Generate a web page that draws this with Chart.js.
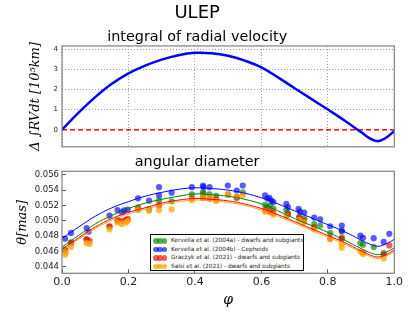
<!DOCTYPE html>
<html>
<head>
<meta charset="utf-8">
<script src="https://cdn.jsdelivr.net/npm/chart.js@4/dist/chart.umd.min.js"></script>
<style>
  html, body { margin: 0; padding: 0; background: #fff; }
  #wrap { position: relative; width: 415px; height: 312px; overflow: hidden; font-family: "DejaVu Sans", sans-serif; }
  #topBox { position: absolute; left: 0; top: 0; width: 415px; height: 155px; }
  #botBox { position: absolute; left: 0; top: 153px; width: 415px; height: 159px; }
  #legend { position: absolute; left: 150px; top: 234px; width: 154px; height: 37px; box-sizing: border-box;
            border: 1px solid #000; background: #fff; }
  #legend .row { position: absolute; left: 0; height: 8px; width: 100%; }
  #legend i { position: absolute; top: 1px; width: 5.5px; height: 5.5px; border-radius: 50%; }
  #legend span { position: absolute; left: 20px; top: -1px; font-size: 5.8px; line-height: 8px; color: #222; white-space: nowrap; }
</style>
</head>
<body>
<div id="wrap">
  <div id="topBox"><canvas id="rvChart"></canvas></div>
  <div id="botBox"><canvas id="thetaChart"></canvas></div>
  <div id="legend"></div>
</div>
<script>
// 軸の目盛り
const xTicks = [0, 0.2, 0.4, 0.6, 0.8, 1.0];
const rvTicks = [0, 1, 2, 3, 4];
const thetaTicks = [0.044, 0.046, 0.048, 0.050, 0.052, 0.054, 0.056];

// 視線速度の積分（10^5 km）
const rvPhase = [0, 0.05, 0.1, 0.15, 0.2, 0.25, 0.3, 0.35, 0.4, 0.45, 0.5, 0.55, 0.6, 0.65, 0.7, 0.75, 0.8, 0.85, 0.9, 0.925, 0.95, 0.975, 1.0];
const rvInt = [0, 0.85, 1.62, 2.28, 2.8, 3.18, 3.48, 3.7, 3.82, 3.8, 3.67, 3.43, 3.1, 2.6, 2.06, 1.53, 1.0, 0.46, -0.12, -0.42, -0.57, -0.4, -0.07];

// フィット曲線（角直径 mas）
const fitPhase = rvPhase;
const fitKervA = [0.0466, 0.0481, 0.0496, 0.0507, 0.0516, 0.0523, 0.0528, 0.0532, 0.0535, 0.0534, 0.0532, 0.0528, 0.0522, 0.0513, 0.0503, 0.0494, 0.0485, 0.0475, 0.0464, 0.0459, 0.0456, 0.0459, 0.0465];
const fitKervB = [0.0477, 0.0492, 0.0506, 0.0517, 0.0525, 0.0532, 0.0537, 0.0541, 0.0543, 0.0542, 0.0540, 0.0536, 0.0530, 0.0522, 0.0513, 0.0504, 0.0495, 0.0486, 0.0475, 0.0470, 0.0467, 0.0470, 0.0476];
const fitGraczyk = [0.0463, 0.0478, 0.0492, 0.0503, 0.0511, 0.0517, 0.0523, 0.0527, 0.0529, 0.0528, 0.0526, 0.0522, 0.0516, 0.0508, 0.0499, 0.0490, 0.0481, 0.0472, 0.0461, 0.0456, 0.0453, 0.0456, 0.0462];
const fitSalsi = [0.0461, 0.0476, 0.0490, 0.0501, 0.0509, 0.0515, 0.0521, 0.0525, 0.0527, 0.0526, 0.0524, 0.0520, 0.0514, 0.0506, 0.0497, 0.0488, 0.0479, 0.0470, 0.0459, 0.0454, 0.0451, 0.0454, 0.0460];

// 観測点
const kervAPhase = [0.009, 0.027, 0.074, 0.143, 0.167, 0.193, 0.229, 0.262, 0.292, 0.33, 0.391, 0.424, 0.426, 0.444, 0.464, 0.526, 0.544, 0.611, 0.618, 0.626, 0.636, 0.675, 0.68, 0.714, 0.729, 0.759, 0.777, 0.807, 0.842, 0.842, 0.898, 0.906, 0.938, 0.968];
const kervATheta = [0.04629, 0.04719, 0.04758, 0.04927, 0.05013, 0.05009, 0.05177, 0.05151, 0.05263, 0.05255, 0.05345, 0.05371, 0.05350, 0.05345, 0.05324, 0.05298, 0.05371, 0.05207, 0.05180, 0.05200, 0.05160, 0.05142, 0.05100, 0.05056, 0.05030, 0.04957, 0.04940, 0.04841, 0.04860, 0.04770, 0.04710, 0.04690, 0.04659, 0.04581];

const kervBPhase = [0.009, 0.027, 0.074, 0.080, 0.143, 0.167, 0.180, 0.187, 0.198, 0.229, 0.262, 0.292, 0.292, 0.33, 0.391, 0.424, 0.426, 0.444, 0.499, 0.526, 0.544, 0.611, 0.618, 0.624, 0.630, 0.636, 0.675, 0.68, 0.712, 0.716, 0.729, 0.759, 0.777, 0.807, 0.842, 0.842, 0.898, 0.906, 0.938, 0.968, 0.985];
const kervBTheta = [0.04769, 0.04843, 0.04907, 0.04860, 0.05067, 0.05140, 0.05111, 0.05137, 0.05147, 0.05293, 0.05263, 0.05438, 0.05331, 0.05367, 0.05438, 0.05460, 0.05438, 0.05438, 0.05460, 0.05395, 0.05460, 0.05331, 0.05290, 0.05300, 0.05265, 0.05245, 0.05222, 0.05180, 0.05155, 0.05120, 0.05108, 0.05043, 0.05020, 0.04930, 0.04940, 0.04874, 0.04808, 0.04780, 0.04775, 0.04726, 0.04831];

const graczykPhase = [0.009, 0.027, 0.074, 0.083, 0.143, 0.167, 0.180, 0.193, 0.198, 0.229, 0.292, 0.391, 0.424, 0.444, 0.464, 0.50, 0.526, 0.611, 0.626, 0.636, 0.68, 0.714, 0.729, 0.759, 0.807, 0.842, 0.906, 0.968, 0.985];
const graczykTheta = [0.04616, 0.04710, 0.04760, 0.04740, 0.04930, 0.05000, 0.05000, 0.05010, 0.05025, 0.05150, 0.05200, 0.05290, 0.05300, 0.05290, 0.05280, 0.05340, 0.05310, 0.05140, 0.05120, 0.05100, 0.05080, 0.05040, 0.05000, 0.04920, 0.04770, 0.04780, 0.04590, 0.04560, 0.04680];

const salsiPhase = [0.009, 0.012, 0.027, 0.074, 0.083, 0.143, 0.167, 0.180, 0.193, 0.198, 0.229, 0.262, 0.292, 0.33, 0.391, 0.424, 0.444, 0.464, 0.50, 0.526, 0.544, 0.611, 0.636, 0.675, 0.714, 0.729, 0.759, 0.807, 0.842, 0.842, 0.898, 0.906, 0.968];
const salsiTheta = [0.04560, 0.04590, 0.04660, 0.04710, 0.04700, 0.04890, 0.04980, 0.04960, 0.04980, 0.05000, 0.05140, 0.05130, 0.05140, 0.05150, 0.05270, 0.05310, 0.05310, 0.05260, 0.05350, 0.05320, 0.05330, 0.05120, 0.05080, 0.05060, 0.05010, 0.04980, 0.04890, 0.04760, 0.04650, 0.04700, 0.04600, 0.04570, 0.04510];

const seriesNames = [
  "Kervella et al. (2004a) - dwarfs and subgiants",
  "Kervella et al. (2004b) - Cepheids",
  "Graczyk et al. (2021) - dwarfs and subgiants",
  "Salsi et al. (2021) - dwarfs and subgiants",
];
const pointColors = ["rgba(0,128,0,0.65)", "rgba(0,0,255,0.65)", "rgba(255,0,0,0.65)", "rgba(255,165,0,0.75)"];
const lineColors = ["#008000", "#0000ff", "#ff0000", "#ffa500"];

const SANS = "'DejaVu Sans', sans-serif";
const SERIF = "'DejaVu Serif', serif";

function toXY(xs, ys) {
  return xs.map((x, i) => ({ x, y: ys[i] }));
}

// 枠線（四辺）
const framePlugin = {
  id: "frame",
  afterDatasetsDraw(chart) {
    const { ctx, chartArea: a } = chart;
    ctx.save();
    ctx.strokeStyle = "#808080";
    ctx.lineWidth = 1.2;
    ctx.strokeRect(a.left, a.top, a.width, a.height);
    ctx.restore();
  },
};

Chart.defaults.animation = false;
Chart.defaults.font.family = SANS;
Chart.defaults.color = "#000";

/**
 * 上段：視線速度の積分
 */
new Chart(document.getElementById("rvChart"), {
  type: "scatter",
  data: {
    datasets: [
      {
        data: toXY(rvPhase, rvInt),
        showLine: true,
        borderColor: "#0000ff",
        borderWidth: 2.5,
        pointRadius: 0,
        tension: 0.4,
        order: 0,
      },
      {
        data: toXY([0, 1], [0, 0]),
        showLine: true,
        borderColor: "#ff0000",
        borderWidth: 1.6,
        borderDash: [5, 3],
        pointRadius: 0,
        order: 1,
      },
    ],
  },
  options: {
    responsive: true,
    maintainAspectRatio: false,
    layout: { padding: { left: 0, right: 20.7, top: 0, bottom: 5 } },
    plugins: {
      legend: { display: false },
      tooltip: { enabled: false },
      title: {
        display: true,
        text: "ULEP",
        font: { size: 18, weight: "normal", family: SANS },
        padding: { top: 3, bottom: 2 },
      },
      subtitle: {
        display: true,
        text: "integral of radial velocity",
        color: "#000",
        font: { size: 14.4, weight: "normal", family: SANS, lineHeight: 1.1 },
        padding: { top: 3, bottom: 0.5 },
      },
    },
    scales: {
      x: {
        type: "linear",
        min: 0,
        max: 1,
        afterBuildTicks: (s) => { s.ticks = xTicks.map((v) => ({ value: v })); },
        afterFit: (s) => { s.height = 0; },
        ticks: { display: false },
        grid: { color: "#9a9a9a", drawTicks: false },
        border: { display: false, dash: [1, 2] },
      },
      y: {
        min: -0.85,
        max: 4.16,
        afterBuildTicks: (s) => { s.ticks = rvTicks.map((v) => ({ value: v })); },
        afterFit: (s) => { s.width = 62; },
        ticks: { font: { size: 7 }, padding: 4, color: "#222" },
        grid: {
          color: (c) => (c.tick && c.tick.value === 0 ? "rgba(0,0,0,0)" : "#9a9a9a"),
          drawTicks: false,
        },
        border: { display: false, dash: [1, 2] },
        title: {
          display: true,
          text: "\u0394 \u222BRVdt [10\u2075km]",
          font: { size: 13, style: "italic", family: SERIF },
          padding: { top: 28, bottom: 0 },
        },
      },
    },
  },
  plugins: [framePlugin],
});

/**
 * 下段：角直径
 */
const pointSets = [
  [kervAPhase, kervATheta],
  [kervBPhase, kervBTheta],
  [graczykPhase, graczykTheta],
  [salsiPhase, salsiTheta],
];
const fitSets = [fitKervA, fitKervB, fitGraczyk, fitSalsi];
const pointOrder = [4, 3, 2, 1];

const thetaDatasets = [];
fitSets.forEach((fit, i) => {
  thetaDatasets.push({
    data: toXY(fitPhase, fit),
    showLine: true,
    borderColor: lineColors[i],
    borderWidth: 1,
    pointRadius: 0,
    tension: 0.4,
    order: 0,
  });
});
pointSets.forEach(([ph, th], i) => {
  thetaDatasets.push({
    label: seriesNames[i],
    data: toXY(ph, th),
    backgroundColor: pointColors[i],
    borderWidth: 0,
    pointRadius: 3.1,
    order: pointOrder[i],
  });
});

new Chart(document.getElementById("thetaChart"), {
  type: "scatter",
  data: { datasets: thetaDatasets },
  options: {
    responsive: true,
    maintainAspectRatio: false,
    layout: { padding: { left: 0, right: 20.7, top: 0, bottom: 0 } },
    plugins: {
      legend: { display: false },
      tooltip: { enabled: false },
      title: {
        display: true,
        text: "angular diameter",
        font: { size: 14.4, weight: "normal", family: SANS },
        padding: { top: 1, bottom: 0 },
      },
    },
    scales: {
      x: {
        type: "linear",
        min: 0,
        max: 1,
        afterBuildTicks: (s) => { s.ticks = xTicks.map((v) => ({ value: v })); },
        afterFit: (s) => { s.height = 38.7; },
        ticks: { font: { size: 11 }, padding: 6, color: "#222", callback: (v) => v.toFixed(1) },
        grid: { drawOnChartArea: false, drawTicks: true, tickLength: -4, color: "#555" },
        border: { display: false },
        title: {
          display: true,
          text: "\u03C6",
          font: { size: 14, style: "italic", family: SERIF },
          padding: { top: 0, bottom: 3 },
        },
      },
      y: {
        min: 0.04318,
        max: 0.05645,
        afterBuildTicks: (s) => { s.ticks = thetaTicks.map((v) => ({ value: v })); },
        afterFit: (s) => { s.width = 62; },
        ticks: { font: { size: 8.5 }, padding: 7, color: "#222", callback: (v) => v.toFixed(3) },
        grid: { drawOnChartArea: false, drawTicks: true, tickLength: -4, color: "#555" },
        border: { display: false },
        title: {
          display: true,
          text: "\u03B8[mas]",
          font: { size: 13, style: "italic", family: SERIF },
          padding: { top: 15, bottom: 0 },
        },
      },
    },
  },
  plugins: [framePlugin],
});

// 凡例（グラフ内の枠付き）
const legendEl = document.getElementById("legend");
const rowTops = [2, 10.5, 19, 27.5];
seriesNames.forEach((name, i) => {
  const row = document.createElement("div");
  row.className = "row";
  row.style.top = rowTops[i] + "px";
  [2, 6.3, 10.6].forEach((left) => {
    const dot = document.createElement("i");
    dot.style.left = left + "px";
    dot.style.background = pointColors[i];
    row.appendChild(dot);
  });
  const label = document.createElement("span");
  label.textContent = name;
  row.appendChild(label);
  legendEl.appendChild(row);
});
</script>
</body>
</html>
